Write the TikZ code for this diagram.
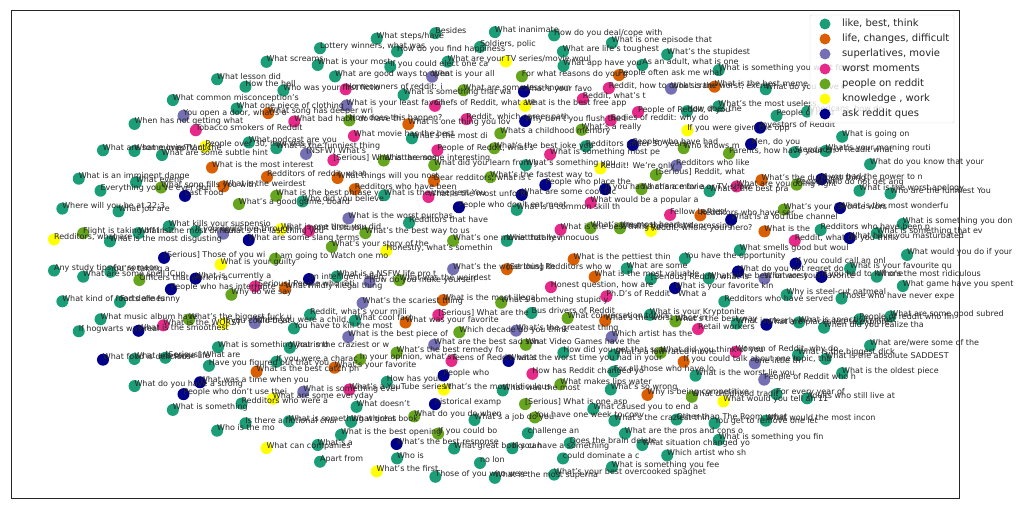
\documentclass[tikz,border=0pt]{standalone}
\usepackage{fontspec}
\setmainfont{DejaVu Sans}
\usepackage{tikz}

\definecolor{cteal}{HTML}{1B9E77}
\definecolor{corange}{HTML}{D95F02}
\definecolor{cpurple}{HTML}{7570B3}
\definecolor{cpink}{HTML}{E7298A}
\definecolor{cgreen}{HTML}{66A61E}
\definecolor{cyellow}{HTML}{FFFF00}
\definecolor{cnavy}{HTML}{00008B}

\begin{document}
\begin{tikzpicture}[x=1pt, y=-1pt, every node/.style={inner sep=0pt, outer sep=0pt},
  dot/.style={circle, minimum size=12pt},
  txt/.style={anchor=base west, text=black!85, font=\fontsize{8}{9}\selectfont},
  ldot/.style={circle, minimum size=11pt},
  ltxt/.style={anchor=mid west, text=black!85, font=\fontsize{10}{12}\selectfont}]
\useasboundingbox (0,0) rectangle (1031,510);

\begin{scope}[shift={(480,255)}]
\node[dot, fill=cteal] (p1) at (0:427 and 223) {};
\node[dot, fill=cteal] (p2) at (8:427 and 223) {};
\node[dot, fill=cteal] (p3) at (16:427 and 223) {};
\node[dot, fill=cteal] (p4) at (24:427 and 223) {};
\node[dot, fill=cteal] (p5) at (32:427 and 223) {};
\node[dot, fill=cteal] (p6) at (40:427 and 223) {};
\node[dot, fill=cteal] (p7) at (48:427 and 223) {};
\node[dot, fill=cteal] (p8) at (56:427 and 223) {};
\node[dot, fill=cteal] (p9) at (64:427 and 223) {};
\node[dot, fill=cteal] (p10) at (72:427 and 223) {};
\node[dot, fill=cteal] (p11) at (80:427 and 223) {};
\node[dot, fill=cteal] (p12) at (88:427 and 223) {};
\node[dot, fill=cteal] (p13) at (96:427 and 223) {};
\node[dot, fill=cyellow] (p14) at (104:427 and 223) {};
\node[dot, fill=cteal] (p15) at (112:427 and 223) {};
\node[dot, fill=cyellow] (p16) at (120:427 and 223) {};
\node[dot, fill=cteal] (p17) at (128:427 and 223) {};
\node[dot, fill=cteal] (p18) at (136:427 and 223) {};
\node[dot, fill=cteal] (p19) at (144:427 and 223) {};
\node[dot, fill=cnavy] (p20) at (152:427 and 223) {};
\node[dot, fill=cteal] (p21) at (160:427 and 223) {};
\node[dot, fill=cteal] (p22) at (168:427 and 223) {};
\node[dot, fill=cteal] (p23) at (176:427 and 223) {};
\node[dot, fill=cyellow] (p24) at (184:427 and 223) {};
\node[dot, fill=cteal] (p25) at (192:427 and 223) {};
\node[dot, fill=cteal] (p26) at (200:427 and 223) {};
\node[dot, fill=cteal] (p27) at (208:427 and 223) {};
\node[dot, fill=cteal] (p28) at (216:427 and 223) {};
\node[dot, fill=cteal] (p29) at (224:427 and 223) {};
\node[dot, fill=cteal] (p30) at (232:427 and 223) {};
\node[dot, fill=cteal] (p31) at (240:427 and 223) {};
\node[dot, fill=cteal] (p32) at (248:427 and 223) {};
\node[dot, fill=cteal] (p33) at (256:427 and 223) {};
\node[dot, fill=cteal] (p34) at (264:427 and 223) {};
\node[dot, fill=cteal] (p35) at (272:427 and 223) {};
\node[dot, fill=cteal] (p36) at (280:427 and 223) {};
\node[dot, fill=cteal] (p37) at (288:427 and 223) {};
\node[dot, fill=cteal] (p38) at (296:427 and 223) {};
\node[dot, fill=cteal] (p39) at (304:427 and 223) {};
\node[dot, fill=cteal] (p40) at (312:427 and 223) {};
\node[dot, fill=cteal] (p41) at (320:427 and 223) {};
\node[dot, fill=cteal] (p42) at (328:427 and 223) {};
\node[dot, fill=cteal] (p43) at (336:427 and 223) {};
\node[dot, fill=cteal] (p44) at (344:427 and 223) {};
\node[dot, fill=cteal] (p45) at (352:427 and 223) {};

\node[dot, fill=cteal] (p199) at (6:399 and 208) {};
\node[dot, fill=cteal] (p200) at (18:399 and 208) {};
\node[dot, fill=cteal] (p201) at (30:399 and 208) {};
\node[dot, fill=cteal] (p202) at (42:399 and 208) {};
\node[dot, fill=cteal] (p203) at (54:399 and 208) {};
\node[dot, fill=cteal] (p204) at (66:399 and 208) {};
\node[dot, fill=cteal] (p205) at (78:399 and 208) {};
\node[dot, fill=cteal] (p206) at (90:399 and 208) {};
\node[dot, fill=cteal] (p207) at (102:399 and 208) {};
\node[dot, fill=cteal] (p208) at (114:399 and 208) {};
\node[dot, fill=cteal] (p209) at (126:399 and 208) {};
\node[dot, fill=cnavy] (p210) at (138:399 and 208) {};
\node[dot, fill=cteal] (p211) at (150:399 and 208) {};
\node[dot, fill=cteal] (p212) at (162:399 and 208) {};
\node[dot, fill=cteal] (p213) at (174:399 and 208) {};
\node[dot, fill=cgreen] (p214) at (186:399 and 208) {};
\node[dot, fill=cteal] (p215) at (198:399 and 208) {};
\node[dot, fill=cteal] (p216) at (210:399 and 208) {};
\node[dot, fill=cpurple] (p217) at (222:399 and 208) {};
\node[dot, fill=cteal] (p218) at (234:399 and 208) {};
\node[dot, fill=cteal] (p219) at (246:399 and 208) {};
\node[dot, fill=cteal] (p220) at (258:399 and 208) {};
\node[dot, fill=cteal] (p221) at (270:399 and 208) {};
\node[dot, fill=cteal] (p222) at (282:399 and 208) {};
\node[dot, fill=cteal] (p223) at (294:399 and 208) {};
\node[dot, fill=corange] (p224) at (306:399 and 208) {};
\node[dot, fill=cteal] (p225) at (318:399 and 208) {};
\node[dot, fill=cteal] (p226) at (330:399 and 208) {};
\node[dot, fill=cteal] (p227) at (342:399 and 208) {};
\node[dot, fill=cteal] (p228) at (354:399 and 208) {};

\node[dot, fill=cteal] (p46) at (4:371 and 194) {};
\node[dot, fill=cteal] (p47) at (13:371 and 194) {};
\node[dot, fill=cteal] (p48) at (22:371 and 194) {};
\node[dot, fill=cteal] (p49) at (31:371 and 194) {};
\node[dot, fill=cpurple] (p50) at (40:371 and 194) {};
\node[dot, fill=cyellow] (p51) at (49:371 and 194) {};
\node[dot, fill=cteal] (p52) at (58:371 and 194) {};
\node[dot, fill=cteal] (p53) at (67:371 and 194) {};
\node[dot, fill=cteal] (p54) at (76:371 and 194) {};
\node[dot, fill=cteal] (p55) at (85:371 and 194) {};
\node[dot, fill=cteal] (p56) at (94:371 and 194) {};
\node[dot, fill=cnavy] (p57) at (103:371 and 194) {};
\node[dot, fill=cteal] (p58) at (112:371 and 194) {};
\node[dot, fill=cteal] (p59) at (121:371 and 194) {};
\node[dot, fill=cteal] (p60) at (130:371 and 194) {};
\node[dot, fill=cnavy] (p61) at (139:371 and 194) {};
\node[dot, fill=cteal] (p62) at (148:371 and 194) {};
\node[dot, fill=cnavy] (p63) at (157:371 and 194) {};
\node[dot, fill=cteal] (p64) at (166:371 and 194) {};
\node[dot, fill=cteal] (p65) at (175:371 and 194) {};
\node[dot, fill=cteal] (p66) at (184:371 and 194) {};
\node[dot, fill=cteal] (p67) at (193:371 and 194) {};
\node[dot, fill=cteal] (p68) at (202:371 and 194) {};
\node[dot, fill=cteal] (p69) at (211:371 and 194) {};
\node[dot, fill=cpink] (p70) at (220:371 and 194) {};
\node[dot, fill=cteal] (p71) at (229:371 and 194) {};
\node[dot, fill=cteal] (p72) at (238:371 and 194) {};
\node[dot, fill=cteal] (p73) at (247:371 and 194) {};
\node[dot, fill=cteal] (p74) at (256:371 and 194) {};
\node[dot, fill=cteal] (p75) at (265:371 and 194) {};
\node[dot, fill=cyellow] (p76) at (274:371 and 194) {};
\node[dot, fill=cteal] (p77) at (283:371 and 194) {};
\node[dot, fill=corange] (p78) at (292:371 and 194) {};
\node[dot, fill=cpurple] (p79) at (301:371 and 194) {};
\node[dot, fill=cteal] (p80) at (310:371 and 194) {};
\node[dot, fill=cnavy] (p81) at (319:371 and 194) {};
\node[dot, fill=cteal] (p82) at (328:371 and 194) {};
\node[dot, fill=cnavy] (p83) at (337:371 and 194) {};
\node[dot, fill=cnavy] (p84) at (346:371 and 194) {};
\node[dot, fill=cnavy] (p85) at (355:371 and 194) {};

\node[dot, fill=cnavy] (p229) at (7:344 and 180) {};
\node[dot, fill=cteal] (p230) at (22:344 and 180) {};
\node[dot, fill=cpurple] (p231) at (37:344 and 180) {};
\node[dot, fill=cgreen] (p232) at (52:344 and 180) {};
\node[dot, fill=cteal] (p233) at (67:344 and 180) {};
\node[dot, fill=cteal] (p234) at (82:344 and 180) {};
\node[dot, fill=cgreen] (p235) at (97:344 and 180) {};
\node[dot, fill=cteal] (p236) at (112:344 and 180) {};
\node[dot, fill=cyellow] (p237) at (127:344 and 180) {};
\node[dot, fill=cteal] (p238) at (142:344 and 180) {};
\node[dot, fill=cpink] (p239) at (157:344 and 180) {};
\node[dot, fill=cgreen] (p240) at (172:344 and 180) {};
\node[dot, fill=cteal] (p241) at (187:344 and 180) {};
\node[dot, fill=cgreen] (p242) at (202:344 and 180) {};
\node[dot, fill=cyellow] (p243) at (217:344 and 180) {};
\node[dot, fill=corange] (p244) at (232:344 and 180) {};
\node[dot, fill=cpink] (p245) at (247:344 and 180) {};
\node[dot, fill=cpurple] (p246) at (262:344 and 180) {};
\node[dot, fill=cgreen] (p247) at (277:344 and 180) {};
\node[dot, fill=cpink] (p248) at (292:344 and 180) {};
\node[dot, fill=cteal] (p249) at (307:344 and 180) {};
\node[dot, fill=cnavy] (p250) at (322:344 and 180) {};
\node[dot, fill=cgreen] (p251) at (337:344 and 180) {};
\node[dot, fill=cteal] (p252) at (352:344 and 180) {};

\node[dot, fill=cnavy] (p86) at (3:316 and 165) {};
\node[dot, fill=cteal] (p87) at (14:316 and 165) {};
\node[dot, fill=cnavy] (p88) at (25:316 and 165) {};
\node[dot, fill=cpink] (p89) at (36:316 and 165) {};
\node[dot, fill=cteal] (p90) at (47:316 and 165) {};
\node[dot, fill=corange] (p91) at (58:316 and 165) {};
\node[dot, fill=cteal] (p92) at (69:316 and 165) {};
\node[dot, fill=cgreen] (p93) at (80:316 and 165) {};
\node[dot, fill=cteal] (p94) at (91:316 and 165) {};
\node[dot, fill=cgreen] (p95) at (102:316 and 165) {};
\node[dot, fill=cteal] (p96) at (113:316 and 165) {};
\node[dot, fill=cpurple] (p97) at (124:316 and 165) {};
\node[dot, fill=corange] (p98) at (135:316 and 165) {};
\node[dot, fill=cteal] (p99) at (146:316 and 165) {};
\node[dot, fill=cgreen] (p100) at (157:316 and 165) {};
\node[dot, fill=cnavy] (p101) at (168:316 and 165) {};
\node[dot, fill=cnavy] (p102) at (179:316 and 165) {};
\node[dot, fill=cteal] (p103) at (190:316 and 165) {};
\node[dot, fill=cnavy] (p104) at (201:316 and 165) {};
\node[dot, fill=corange] (p105) at (212:316 and 165) {};
\node[dot, fill=cteal] (p106) at (223:316 and 165) {};
\node[dot, fill=cpink] (p107) at (234:316 and 165) {};
\node[dot, fill=cpurple] (p108) at (245:316 and 165) {};
\node[dot, fill=cteal] (p109) at (256:316 and 165) {};
\node[dot, fill=cgreen] (p110) at (267:316 and 165) {};
\node[dot, fill=cnavy] (p111) at (278:316 and 165) {};
\node[dot, fill=cpink] (p112) at (289:316 and 165) {};
\node[dot, fill=cpink] (p113) at (300:316 and 165) {};
\node[dot, fill=cyellow] (p114) at (311:316 and 165) {};
\node[dot, fill=cgreen] (p115) at (322:316 and 165) {};
\node[dot, fill=corange] (p116) at (333:316 and 165) {};
\node[dot, fill=cgreen] (p117) at (344:316 and 165) {};
\node[dot, fill=cpink] (p118) at (355:316 and 165) {};

\node[dot, fill=cpurple] (p253) at (9:288 and 151) {};
\node[dot, fill=cteal] (p254) at (27:288 and 151) {};
\node[dot, fill=corange] (p255) at (45:288 and 151) {};
\node[dot, fill=cteal] (p256) at (63:288 and 151) {};
\node[dot, fill=cgreen] (p257) at (81:288 and 151) {};
\node[dot, fill=cnavy] (p258) at (99:288 and 151) {};
\node[dot, fill=cpink] (p259) at (117:288 and 151) {};
\node[dot, fill=cteal] (p260) at (135:288 and 151) {};
\node[dot, fill=cyellow] (p261) at (153:288 and 151) {};
\node[dot, fill=cnavy] (p262) at (171:288 and 151) {};
\node[dot, fill=cteal] (p263) at (189:288 and 151) {};
\node[dot, fill=corange] (p264) at (207:288 and 151) {};
\node[dot, fill=cteal] (p265) at (225:288 and 151) {};
\node[dot, fill=cgreen] (p266) at (243:288 and 151) {};
\node[dot, fill=cpink] (p267) at (261:288 and 151) {};
\node[dot, fill=cyellow] (p268) at (279:288 and 151) {};
\node[dot, fill=cpink] (p269) at (297:288 and 151) {};
\node[dot, fill=cgreen] (p270) at (315:288 and 151) {};
\node[dot, fill=cpink] (p271) at (333:288 and 151) {};
\node[dot, fill=corange] (p272) at (351:288 and 151) {};

\node[dot, fill=cnavy] (p119) at (7:260 and 136) {};
\node[dot, fill=cteal] (p120) at (20:260 and 136) {};
\node[dot, fill=cpink] (p121) at (33:260 and 136) {};
\node[dot, fill=cgreen] (p122) at (46:260 and 136) {};
\node[dot, fill=cteal] (p123) at (59:260 and 136) {};
\node[dot, fill=cgreen] (p124) at (72:260 and 136) {};
\node[dot, fill=cteal] (p125) at (85:260 and 136) {};
\node[dot, fill=cyellow] (p126) at (98:260 and 136) {};
\node[dot, fill=cteal] (p127) at (111:260 and 136) {};
\node[dot, fill=corange] (p128) at (124:260 and 136) {};
\node[dot, fill=cteal] (p129) at (137:260 and 136) {};
\node[dot, fill=cpurple] (p130) at (150:260 and 136) {};
\node[dot, fill=cgreen] (p131) at (163:260 and 136) {};
\node[dot, fill=cyellow] (p132) at (176:260 and 136) {};
\node[dot, fill=cpurple] (p133) at (189:260 and 136) {};
\node[dot, fill=cgreen] (p134) at (202:260 and 136) {};
\node[dot, fill=corange] (p135) at (215:260 and 136) {};
\node[dot, fill=cpurple] (p136) at (228:260 and 136) {};
\node[dot, fill=cpink] (p137) at (241:260 and 136) {};
\node[dot, fill=corange] (p138) at (254:260 and 136) {};
\node[dot, fill=cpink] (p139) at (267:260 and 136) {};
\node[dot, fill=cnavy] (p140) at (280:260 and 136) {};
\node[dot, fill=cgreen] (p141) at (293:260 and 136) {};
\node[dot, fill=cnavy] (p142) at (306:260 and 136) {};
\node[dot, fill=cpurple] (p143) at (319:260 and 136) {};
\node[dot, fill=cteal] (p144) at (332:260 and 136) {};
\node[dot, fill=cnavy] (p145) at (345:260 and 136) {};
\node[dot, fill=cteal] (p146) at (358:260 and 136) {};

\node[dot, fill=cteal] (p273) at (11:233 and 122) {};
\node[dot, fill=cgreen] (p274) at (33:233 and 122) {};
\node[dot, fill=cteal] (p275) at (55:233 and 122) {};
\node[dot, fill=cpink] (p276) at (77:233 and 122) {};
\node[dot, fill=cnavy] (p277) at (99:233 and 122) {};
\node[dot, fill=cgreen] (p278) at (121:233 and 122) {};
\node[dot, fill=cteal] (p279) at (143:233 and 122) {};
\node[dot, fill=cpink] (p280) at (165:233 and 122) {};
\node[dot, fill=cnavy] (p281) at (187:233 and 122) {};
\node[dot, fill=cgreen] (p282) at (209:233 and 122) {};
\node[dot, fill=cpink] (p283) at (231:233 and 122) {};
\node[dot, fill=cteal] (p284) at (253:233 and 122) {};
\node[dot, fill=cgreen] (p285) at (275:233 and 122) {};
\node[dot, fill=cteal] (p286) at (297:233 and 122) {};
\node[dot, fill=cgreen] (p287) at (319:233 and 122) {};
\node[dot, fill=corange] (p288) at (341:233 and 122) {};

\node[dot, fill=cteal] (p147) at (2:205 and 107) {};
\node[dot, fill=cnavy] (p148) at (18:205 and 107) {};
\node[dot, fill=cteal] (p149) at (34:205 and 107) {};
\node[dot, fill=cpurple] (p150) at (50:205 and 107) {};
\node[dot, fill=cteal] (p151) at (66:205 and 107) {};
\node[dot, fill=cnavy] (p152) at (82:205 and 107) {};
\node[dot, fill=cpink] (p153) at (98:205 and 107) {};
\node[dot, fill=cgreen] (p154) at (114:205 and 107) {};
\node[dot, fill=cpurple] (p155) at (130:205 and 107) {};
\node[dot, fill=cteal] (p156) at (146:205 and 107) {};
\node[dot, fill=corange] (p157) at (162:205 and 107) {};
\node[dot, fill=cgreen] (p158) at (178:205 and 107) {};
\node[dot, fill=cyellow] (p159) at (194:205 and 107) {};
\node[dot, fill=cteal] (p160) at (210:205 and 107) {};
\node[dot, fill=corange] (p161) at (226:205 and 107) {};
\node[dot, fill=cgreen] (p162) at (242:205 and 107) {};
\node[dot, fill=cpink] (p163) at (258:205 and 107) {};
\node[dot, fill=cgreen] (p164) at (274:205 and 107) {};
\node[dot, fill=cpink] (p165) at (290:205 and 107) {};
\node[dot, fill=cyellow] (p166) at (306:205 and 107) {};
\node[dot, fill=cgreen] (p167) at (322:205 and 107) {};
\node[dot, fill=cpink] (p168) at (338:205 and 107) {};

\node[dot, fill=cteal] (p289) at (15:177 and 93) {};
\node[dot, fill=corange] (p290) at (45:177 and 93) {};
\node[dot, fill=cgreen] (p291) at (75:177 and 93) {};
\node[dot, fill=cpurple] (p292) at (105:177 and 93) {};
\node[dot, fill=cteal] (p293) at (135:177 and 93) {};
\node[dot, fill=cnavy] (p294) at (165:177 and 93) {};
\node[dot, fill=cpink] (p295) at (195:177 and 93) {};
\node[dot, fill=corange] (p296) at (225:177 and 93) {};
\node[dot, fill=cgreen] (p297) at (255:177 and 93) {};
\node[dot, fill=cteal] (p298) at (285:177 and 93) {};
\node[dot, fill=cnavy] (p299) at (315:177 and 93) {};
\node[dot, fill=cyellow] (p300) at (345:177 and 93) {};

\node[dot, fill=cteal] (p169) at (10:149 and 78) {};
\node[dot, fill=cpink] (p170) at (32:149 and 78) {};
\node[dot, fill=cgreen] (p171) at (54:149 and 78) {};
\node[dot, fill=cpurple] (p172) at (76:149 and 78) {};
\node[dot, fill=cgreen] (p173) at (98:149 and 78) {};
\node[dot, fill=corange] (p174) at (120:149 and 78) {};
\node[dot, fill=cpurple] (p175) at (142:149 and 78) {};
\node[dot, fill=cteal] (p176) at (164:149 and 78) {};
\node[dot, fill=cgreen] (p177) at (186:149 and 78) {};
\node[dot, fill=cpurple] (p178) at (208:149 and 78) {};
\node[dot, fill=cteal] (p179) at (230:149 and 78) {};
\node[dot, fill=corange] (p180) at (252:149 and 78) {};
\node[dot, fill=cgreen] (p181) at (274:149 and 78) {};
\node[dot, fill=cnavy] (p182) at (296:149 and 78) {};
\node[dot, fill=cpink] (p183) at (318:149 and 78) {};
\node[dot, fill=cgreen] (p184) at (340:149 and 78) {};

\node[dot, fill=corange] (p301) at (20:122 and 64) {};
\node[dot, fill=cteal] (p302) at (65:122 and 64) {};
\node[dot, fill=cpink] (p303) at (110:122 and 64) {};
\node[dot, fill=cpurple] (p304) at (155:122 and 64) {};
\node[dot, fill=cgreen] (p305) at (200:122 and 64) {};
\node[dot, fill=cpink] (p306) at (245:122 and 64) {};
\node[dot, fill=cnavy] (p307) at (290:122 and 64) {};
\node[dot, fill=cgreen] (p308) at (335:122 and 64) {};

\node[dot, fill=corange] (p185) at (5:94 and 49) {};
\node[dot, fill=cpink] (p186) at (41:94 and 49) {};
\node[dot, fill=cgreen] (p187) at (77:94 and 49) {};
\node[dot, fill=corange] (p188) at (113:94 and 49) {};
\node[dot, fill=cgreen] (p189) at (149:94 and 49) {};
\node[dot, fill=cyellow] (p190) at (185:94 and 49) {};
\node[dot, fill=cteal] (p191) at (221:94 and 49) {};
\node[dot, fill=cnavy] (p192) at (257:94 and 49) {};
\node[dot, fill=cteal] (p193) at (293:94 and 49) {};
\node[dot, fill=cpink] (p194) at (329:94 and 49) {};

\node[dot, fill=corange] (p195) at (45:38 and 20) {};
\node[dot, fill=cpurple] (p196) at (135:38 and 20) {};
\node[dot, fill=cgreen] (p197) at (225:38 and 20) {};
\node[dot, fill=cteal] (p198) at (315:38 and 20) {};
\end{scope}

\draw[black!85, line width=0.8pt] (11,10) rectangle (959,498);

\node[txt] (t1) at (p1) {What would you do if your};
\node[txt] (t2) at (p2) {What game have you spent};
\node[txt] (t3) at (p3) {What are some good subred};
\node[txt] (t4) at (p4) {What are/were some of the};
\node[txt] (t5) at (p5) {What is the oldest piece};
\node[txt] (t6) at (p6) {Adults who still live at};
\node[txt] (t7) at (p7) {What would the most incon};
\node[txt] (t8) at (p8) {What is something you fin};
\node[txt] (t9) at (p9) {Which artist who sh};
\node[txt] (t10) at (p10) {What is something you fee};
\node[txt] (t11) at (p11) {What's your best overcooked spaghet};
\node[txt] (t12) at (p12) {What is the most superna};
\node[txt] (t13) at (p13) {Those of you who were};
\node[txt] (t14) at (p14) {What's the first};
\node[txt] (t15) at (p15) {Apart from};
\node[txt] (t16) at (p16) {What can companies};
\node[txt] (t17) at (p17) {Who is the mo};
\node[txt] (t18) at (p18) {What is something};
\node[txt] (t19) at (p19) {What do you have a strong};
\node[txt] (t20) at (p20) {What food is delicious};
\node[txt] (t21) at (p21) {If hogwarts was real};
\node[txt] (t22) at (p22) {What kind of food defines};
\node[txt] (t23) at (p23) {Any study tips for someon};
\node[txt] (t24) at (p24) {Redditors, what are};
\node[txt] (t25) at (p25) {Where will you be at 22:3};
\node[txt] (t26) at (p26) {What is an imminent dange};
\node[txt] (t27) at (p27) {What are some important l};
\node[txt] (t28) at (p28) {When has not getting what};
\node[txt] (t29) at (p29) {What common misconception's};
\node[txt] (t30) at (p30) {What lesson did};
\node[txt] (t31) at (p31) {What screams};
\node[txt] (t32) at (p32) {Lottery winners, what was};
\node[txt] (t33) at (p33) {What steps/have};
\node[txt] (t34) at (p34) {Besides};
\node[txt] (t35) at (p35) {What inanimate};
\node[txt] (t36) at (p36) {How do you deal/cope with};
\node[txt] (t37) at (p37) {What is one episode that};
\node[txt] (t38) at (p38) {What's the stupidest};
\node[txt] (t39) at (p39) {What is something you want for your};
\node[txt] (t40) at (p40) {What do you have e};
\node[txt] (t41) at (p41) {Americans, how do};
\node[txt] (t42) at (p42) {What is going on};
\node[txt] (t43) at (p43) {What do you know that your};
\node[txt] (t44) at (p44) {Who are the funniest You};
\node[txt] (t45) at (p45) {What is something you don};

\node[txt] (t199) at (p199) {Who's the most ridiculous};
\node[txt] (t200) at (p200) {People of reddit who fin};
\node[txt] (t201) at (p201) {What is the absolute SADDEST};
\node[txt] (t202) at (p202) {For every year of};
\node[txt] (t203) at (p203) {You get to remove one let};
\node[txt] (t204) at (p204) {What situation changed yo};
\node[txt] (t205) at (p205) {could dominate a c};
\node[txt] (t206) at (p206) {no lon};
\node[txt] (t207) at (p207) {Who is};
\node[txt] (t208) at (p208) {What's a};
\node[txt] (t209) at (p209) {Is there a fictional char};
\node[txt] (t210) at (p210) {People who don't use thei};
\node[txt] (t211) at (p211) {What are some life};
\node[txt] (t212) at (p212) {What music album have};
\node[txt] (t213) at (p213) {What are some spell iCup};
\node[txt] (t214) at (p214) {Flight is taking off in 1};
\node[txt] (t215) at (p215) {Everything you've ever don};
\node[txt] (t216) at (p216) {What movie/TV cliché};
\node[txt] (t217) at (p217) {You open a door, what's o};
\node[txt] (t218) at (p218) {How the hell};
\node[txt] (t219) at (p219) {What is your most};
\node[txt] (t220) at (p220) {How do you find happiness};
\node[txt] (t221) at (p221) {Soldiers, polic};
\node[txt] (t222) at (p222) {What are life's toughest};
\node[txt] (t223) at (p223) {As an adult, what is one};
\node[txt] (t224) at (p224) {What is the best meme};
\node[txt] (t225) at (p225) {People of redd};
\node[txt] (t226) at (p226) {What's your morning routi};
\node[txt] (t227) at (p227) {What is the worst apology};
\node[txt] (t228) at (p228) {What is something that ev};

\node[txt] (t46) at (p46) {What is your favourite qu};
\node[txt] (t47) at (p47) {Those who have never expe};
\node[txt] (t48) at (p48) {When did you realize tha};
\node[txt] (t49) at (p49) {What is the biggest dick};
\node[txt] (t50) at (p50) {People of Reddit who h};
\node[txt] (t51) at (p51) {What would you tell an 11};
\node[txt] (t52) at (p52) {Other than The Room, what};
\node[txt] (t53) at (p53) {What are the pros and cons o};
\node[txt] (t54) at (p54) {Does the brain delete};
\node[txt] (t55) at (p55) {If you have a something};
\node[txt] (t56) at (p56) {What great books can};
\node[txt] (t57) at (p57) {What's the best response};
\node[txt] (t58) at (p58) {What is the best opening};
\node[txt] (t59) at (p59) {What is something which s};
\node[txt] (t60) at (p60) {Redditors who were a};
\node[txt] (t61) at (p61) {What was a time when you};
\node[txt] (t62) at (p62) {[Serious] What are};
\node[txt] (t63) at (p63) {What is the smoothest};
\node[txt] (t64) at (p64) {Farts are funny};
\node[txt] (t65) at (p65) {You're taking a};
\node[txt] (t66) at (p66) {What is the most disgusting};
\node[txt] (t67) at (p67) {What job are};
\node[txt] (t68) at (p68) {What event};
\node[txt] (t69) at (p69) {What are some subtle hint};
\node[txt] (t70) at (p70) {Tobacco smokers of Reddit};
\node[txt] (t71) at (p71) {What one piece of clothing};
\node[txt] (t72) at (p72) {Who was your first fictio};
\node[txt] (t73) at (p73) {What are good ways to open};
\node[txt] (t74) at (p74) {If you could elect one ca};
\node[txt] (t75) at (p75) {What are your};
\node[txt] (t76) at (p76) {TV series/movie woul};
\node[txt] (t77) at (p77) {What app have you};
\node[txt] (t78) at (p78) {People often ask me what};
\node[txt] (t79) at (p79) {What is the worst, excru};
\node[txt] (t80) at (p80) {What's the most useless};
\node[txt] (t81) at (p81) {Investors of Reddit};
\node[txt] (t82) at (p82) {Stepdads of Reddit what};
\node[txt] (t83) at (p83) {If you had the power to n};
\node[txt] (t84) at (p84) {What is the most wonderfu};
\node[txt] (t85) at (p85) {What have you masturbated};

\node[txt] (t229) at (p229) {If you had to kill one};
\node[txt] (t230) at (p230) {What is an activity most};
\node[txt] (t231) at (p231) {one little th};
\node[txt] (t232) at (p232) {What childhood tradit};
\node[txt] (t233) at (p233) {What's the craziest thin};
\node[txt] (t234) at (p234) {challenge an};
\node[txt] (t235) at (p235) {If you could bo};
\node[txt] (t236) at (p236) {What great book};
\node[txt] (t237) at (p237) {What are some everyday};
\node[txt] (t238) at (p238) {Have you figured out that you};
\node[txt] (t239) at (p239) {What is the WORST};
\node[txt] (t240) at (p240) {Officers that work in a};
\node[txt] (t241) at (p241) {What is the most difficul};
\node[txt] (t242) at (p242) {What song fills you with};
\node[txt] (t243) at (p243) {People over 30, how was y};
\node[txt] (t244) at (p244) {What song has deeper wri};
\node[txt] (t245) at (p245) {Homeowners of reddit: i};
\node[txt] (t246) at (p246) {What is your all};
\node[txt] (t247) at (p247) {For what reasons do you g};
\node[txt] (t248) at (p248) {Reddit, how to cook scram};
\node[txt] (t249) at (p249) {How does the};
\node[txt] (t250) at (p250) {Men, do you};
\node[txt] (t251) at (p251) {People who do not get ang};
\node[txt] (t252) at (p252) {Redditors who have been p};

\node[txt] (t86) at (p86) {If you could call an onl};
\node[txt] (t87) at (p87) {Why is steel-cut oatmeal};
\node[txt] (t88) at (p88) {What are places left to explore};
\node[txt] (t89) at (p89) {Women of Reddit, why do};
\node[txt] (t90) at (p90) {What is the worst lie you};
\node[txt] (t91) at (p91) {Why is being competitive};
\node[txt] (t92) at (p92) {What caused you to end a};
\node[txt] (t93) at (p93) {You have one week to conv};
\node[txt] (t94) at (p94) {What's a job do you};
\node[txt] (t95) at (p95) {What do you do when};
\node[txt] (t96) at (p96) {What doesn't};
\node[txt] (t97) at (p97) {What is something ever};
\node[txt] (t98) at (p98) {What is the best catch ph};
\node[txt] (t99) at (p99) {What is something your mo};
\node[txt] (t100) at (p100) {What's the biggest fuck u};
\node[txt] (t101) at (p101) {People who has interrupte};
\node[txt] (t102) at (p102) {[Serious] Those of you wi};
\node[txt] (t103) at (p103) {What kills your suspensio};
\node[txt] (t104) at (p104) {Last Food};
\node[txt] (t105) at (p105) {What is the most interest};
\node[txt] (t106) at (p106) {What podcast are you};
\node[txt] (t107) at (p107) {What bad habit do have th};
\node[txt] (t108) at (p108) {What is your least favori};
\node[txt] (t109) at (p109) {What is something that wa};
\node[txt] (t110) at (p110) {What are some less known};
\node[txt] (t111) at (p111) {What's your favo};
\node[txt] (t112) at (p112) {Reddit, what's t};
\node[txt] (t113) at (p113) {People of Reddit, if you};
\node[txt] (t114) at (p114) {If you were given the opp};
\node[txt] (t115) at (p115) {Parents, how have your ch};
\node[txt] (t116) at (p116) {What's the dumbest thing};
\node[txt] (t117) at (p117) {What's your favorite wors};
\node[txt] (t118) at (p118) {Reddit, what do you think};

\node[txt] (t253) at (p253) {What are your favorite};
\node[txt] (t254) at (p254) {What is clearly m};
\node[txt] (t255) at (p255) {If you could talk about one topic, tha};
\node[txt] (t256) at (p256) {What's so wrong};
\node[txt] (t257) at (p257) {[Serious] What is one asp};
\node[txt] (t258) at (p258) {historical examp};
\node[txt] (t259) at (p259) {What's a YouTube series t};
\node[txt] (t260) at (p260) {If you were a charac};
\node[txt] (t261) at (p261) {If you could beat};
\node[txt] (t262) at (p262) {What is currently a};
\node[txt] (t263) at (p263) {If you could live through};
\node[txt] (t264) at (p264) {What is the weirdest};
\node[txt] (t265) at (p265) {What is the funniest thing};
\node[txt] (t266) at (p266) {How does this happen?};
\node[txt] (t267) at (p267) {Chefs of Reddit, what are};
\node[txt] (t268) at (p268) {What is the best free app};
\node[txt] (t269) at (p269) {Bodies of reddit: why do};
\node[txt] (t270) at (p270) {Who knows m};
\node[txt] (t271) at (p271) {What are you doing right};
\node[txt] (t272) at (p272) {What is the};

\node[txt] (t119) at (p119) {What do you not regret do};
\node[txt] (t120) at (p120) {Redditors who have served};
\node[txt] (t121) at (p121) {Retail workers};
\node[txt] (t122) at (p122) {What did you think of you};
\node[txt] (t123) at (p123) {For all those who have lo};
\node[txt] (t124) at (p124) {What makes lips water};
\node[txt] (t125) at (p125) {What was the most};
\node[txt] (t126) at (p126) {What's the most ridiculous};
\node[txt] (t127) at (p127) {How has your};
\node[txt] (t128) at (p128) {What's your favorite};
\node[txt] (t129) at (p129) {What is the craziest or w};
\node[txt] (t130) at (p130) {When you were a child,};
\node[txt] (t131) at (p131) {Why do we say};
\node[txt] (t132) at (p132) {What is your guilty};
\node[txt] (t133) at (p133) {What's the last thing you};
\node[txt] (t134) at (p134) {What's a good game, board};
\node[txt] (t135) at (p135) {Redditors of reddit, what};
\node[txt] (t136) at (p136) {(NSFW) What's};
\node[txt] (t137) at (p137) {What movie has the best};
\node[txt] (t138) at (p138) {What is one thing you lov};
\node[txt] (t139) at (p139) {Reddit, which career path};
\node[txt] (t140) at (p140) {Why don't you flush the t};
\node[txt] (t141) at (p141) {What's a really};
\node[txt] (t142) at (p142) {People who have had};
\node[txt] (t143) at (p143) {Redditors who like};
\node[txt] (t144) at (p144) {What's the best pra};
\node[txt] (t145) at (p145) {What is a YouTube channel};
\node[txt] (t146) at (p146) {What smells good but woul};

\node[txt] (t273) at (p273) {What's the best or worst};
\node[txt] (t274) at (p274) {What's the best way};
\node[txt] (t275) at (p275) {What's a low-rated movie};
\node[txt] (t276) at (p276) {How has Reddit changed yo};
\node[txt] (t277) at (p277) {People who};
\node[txt] (t278) at (p278) {In your opinion, what's t};
\node[txt] (t279) at (p279) {You have to kill the most};
\node[txt] (t280) at (p280) {[Serious] People who reti};
\node[txt] (t281) at (p281) {What are some slang terms};
\node[txt] (t282) at (p282) {What is the best phrase y};
\node[txt] (t283) at (p283) {[Serious] What is the mos};
\node[txt] (t284) at (p284) {What's the most di};
\node[txt] (t285) at (p285) {Whats a childhood memory};
\node[txt] (t286) at (p286) {Redditors under 30 years};
\node[txt] (t287) at (p287) {[Serious] Reddit, what};
\node[txt] (t288) at (p288) {Redditors who have ser};

\node[txt] (t147) at (p147) {You have the opportunity};
\node[txt] (t148) at (p148) {What is your favorite kin};
\node[txt] (t149) at (p149) {What is your Kryptonite};
\node[txt] (t150) at (p150) {Which artist has the};
\node[txt] (t151) at (p151) {How did you get that scar};
\node[txt] (t152) at (p152) {What's the worst time you had in your};
\node[txt] (t153) at (p153) {Teens of Reddit, what};
\node[txt] (t154) at (p154) {What's the best remedy fo};
\node[txt] (t155) at (p155) {What is the best piece of};
\node[txt] (t156) at (p156) {Reddit, what's your milli};
\node[txt] (t157) at (p157) {What mildly illegal thing};
\node[txt] (t158) at (p158) {I am going to Watch one mo};
\node[txt] (t159) at (p159) {What is one time you did};
\node[txt] (t160) at (p160) {Who did you believe};
\node[txt] (t161) at (p161) {What things will you nost};
\node[txt] (t162) at (p162) {What are some interesting};
\node[txt] (t163) at (p163) {People of Reddit, what's};
\node[txt] (t164) at (p164) {What's the best joke you};
\node[txt] (t165) at (p165) {What is something most pe};
\node[txt] (t166) at (p166) {Reddit! We're only};
\node[txt] (t167) at (p167) {What's a movie or TV show};
\node[txt] (t168) at (p168) {Fellow Lefties!};

\node[txt] (t289) at (p289) {[Serious] Reddit, what is};
\node[txt] (t290) at (p290) {What's the worst place in};
\node[txt] (t291) at (p291) {What Video Games have the};
\node[txt] (t292) at (p292) {What are the best sad son};
\node[txt] (t293) at (p293) {What cool fact};
\node[txt] (t294) at (p294) {an intelligent alien};
\node[txt] (t295) at (p295) {most disturbin};
\node[txt] (t296) at (p296) {Redditors who have been};
\node[txt] (t297) at (p297) {What did you learn from y};
\node[txt] (t298) at (p298) {What's something you};
\node[txt] (t299) at (p299) {If you had a chance for a};
\node[txt] (t300) at (p300) {Reddit, who is your hero?};

\node[txt] (t169) at (p169) {What are some};
\node[txt] (t170) at (p170) {Ph.D's of Reddit - What a};
\node[txt] (t171) at (p171) {What conversation topics};
\node[txt] (t172) at (p172) {What's the greatest thing};
\node[txt] (t173) at (p173) {Which decade do you think};
\node[txt] (t174) at (p174) {What was your favorite};
\node[txt] (t175) at (p175) {What's the scariest thing};
\node[txt] (t176) at (p176) {What is a NSFW life pro t};
\node[txt] (t177) at (p177) {What's your story of the};
\node[txt] (t178) at (p178) {What is the worst purchas};
\node[txt] (t179) at (p179) {What is the creepiest You};
\node[txt] (t180) at (p180) {Dear redditors, what is t};
\node[txt] (t181) at (p181) {What's the fastest way to};
\node[txt] (t182) at (p182) {People who place the};
\node[txt] (t183) at (p183) {What would be a popular a};
\node[txt] (t184) at (p184) {What's the most depressing};

\node[txt] (t301) at (p301) {What is the most valuable};
\node[txt] (t302) at (p302) {Bus drivers of Reddit};
\node[txt] (t303) at (p303) {[Serious] What are the};
\node[txt] (t304) at (p304) {How do you make yourself};
\node[txt] (t305) at (p305) {What's the best way to us};
\node[txt] (t306) at (p306) {What is the most unfortu};
\node[txt] (t307) at (p307) {What are some cool fac};
\node[txt] (t308) at (p308) {What's the most heart-wr};

\node[txt] (t185) at (p185) {What is the pettiest thin};
\node[txt] (t186) at (p186) {Honest question, how are};
\node[txt] (t187) at (p187) {What's something stupid y};
\node[txt] (t188) at (p188) {What is the most illegal};
\node[txt] (t189) at (p189) {What was the weirdest};
\node[txt] (t190) at (p190) {Honestly, what's somethin};
\node[txt] (t191) at (p191) {Redditors that have};
\node[txt] (t192) at (p192) {People who don't eat meat};
\node[txt] (t193) at (p193) {What is a common skill th};
\node[txt] (t194) at (p194) {What is the best thing yo};

\node[txt] (t195) at (p195) {[Serious] Redditors who w};
\node[txt] (t196) at (p196) {What's the worst thing th};
\node[txt] (t197) at (p197) {What's one movie that nev};
\node[txt] (t198) at (p198) {What totally innocuous};

\node[draw=black!15, fill=white, fill opacity=0.8, rounded corners=2pt, minimum width=144pt, minimum height=108pt, anchor=north west] (legbox) at (810,15) {};
\node[ldot, fill=cteal] (k1) at (825,24) {};
\node[ltxt] (m1) at (842,24) {like, best, think};
\node[ldot, fill=corange] (k2) at (825,39) {};
\node[ltxt] (m2) at (842,39) {life, changes, difficult};
\node[ldot, fill=cpurple] (k3) at (825,54) {};
\node[ltxt] (m3) at (842,54) {superlatives, movie};
\node[ldot, fill=cpink] (k4) at (825,69) {};
\node[ltxt] (m4) at (842,69) {worst moments};
\node[ldot, fill=cgreen] (k5) at (825,84) {};
\node[ltxt] (m5) at (842,84) {people on reddit};
\node[ldot, fill=cyellow] (k6) at (825,99) {};
\node[ltxt] (m6) at (842,99) {knowledge , work};
\node[ldot, fill=cnavy] (k7) at (825,114) {};
\node[ltxt] (m7) at (842,114) {ask reddit ques};
\end{tikzpicture}
\end{document}
